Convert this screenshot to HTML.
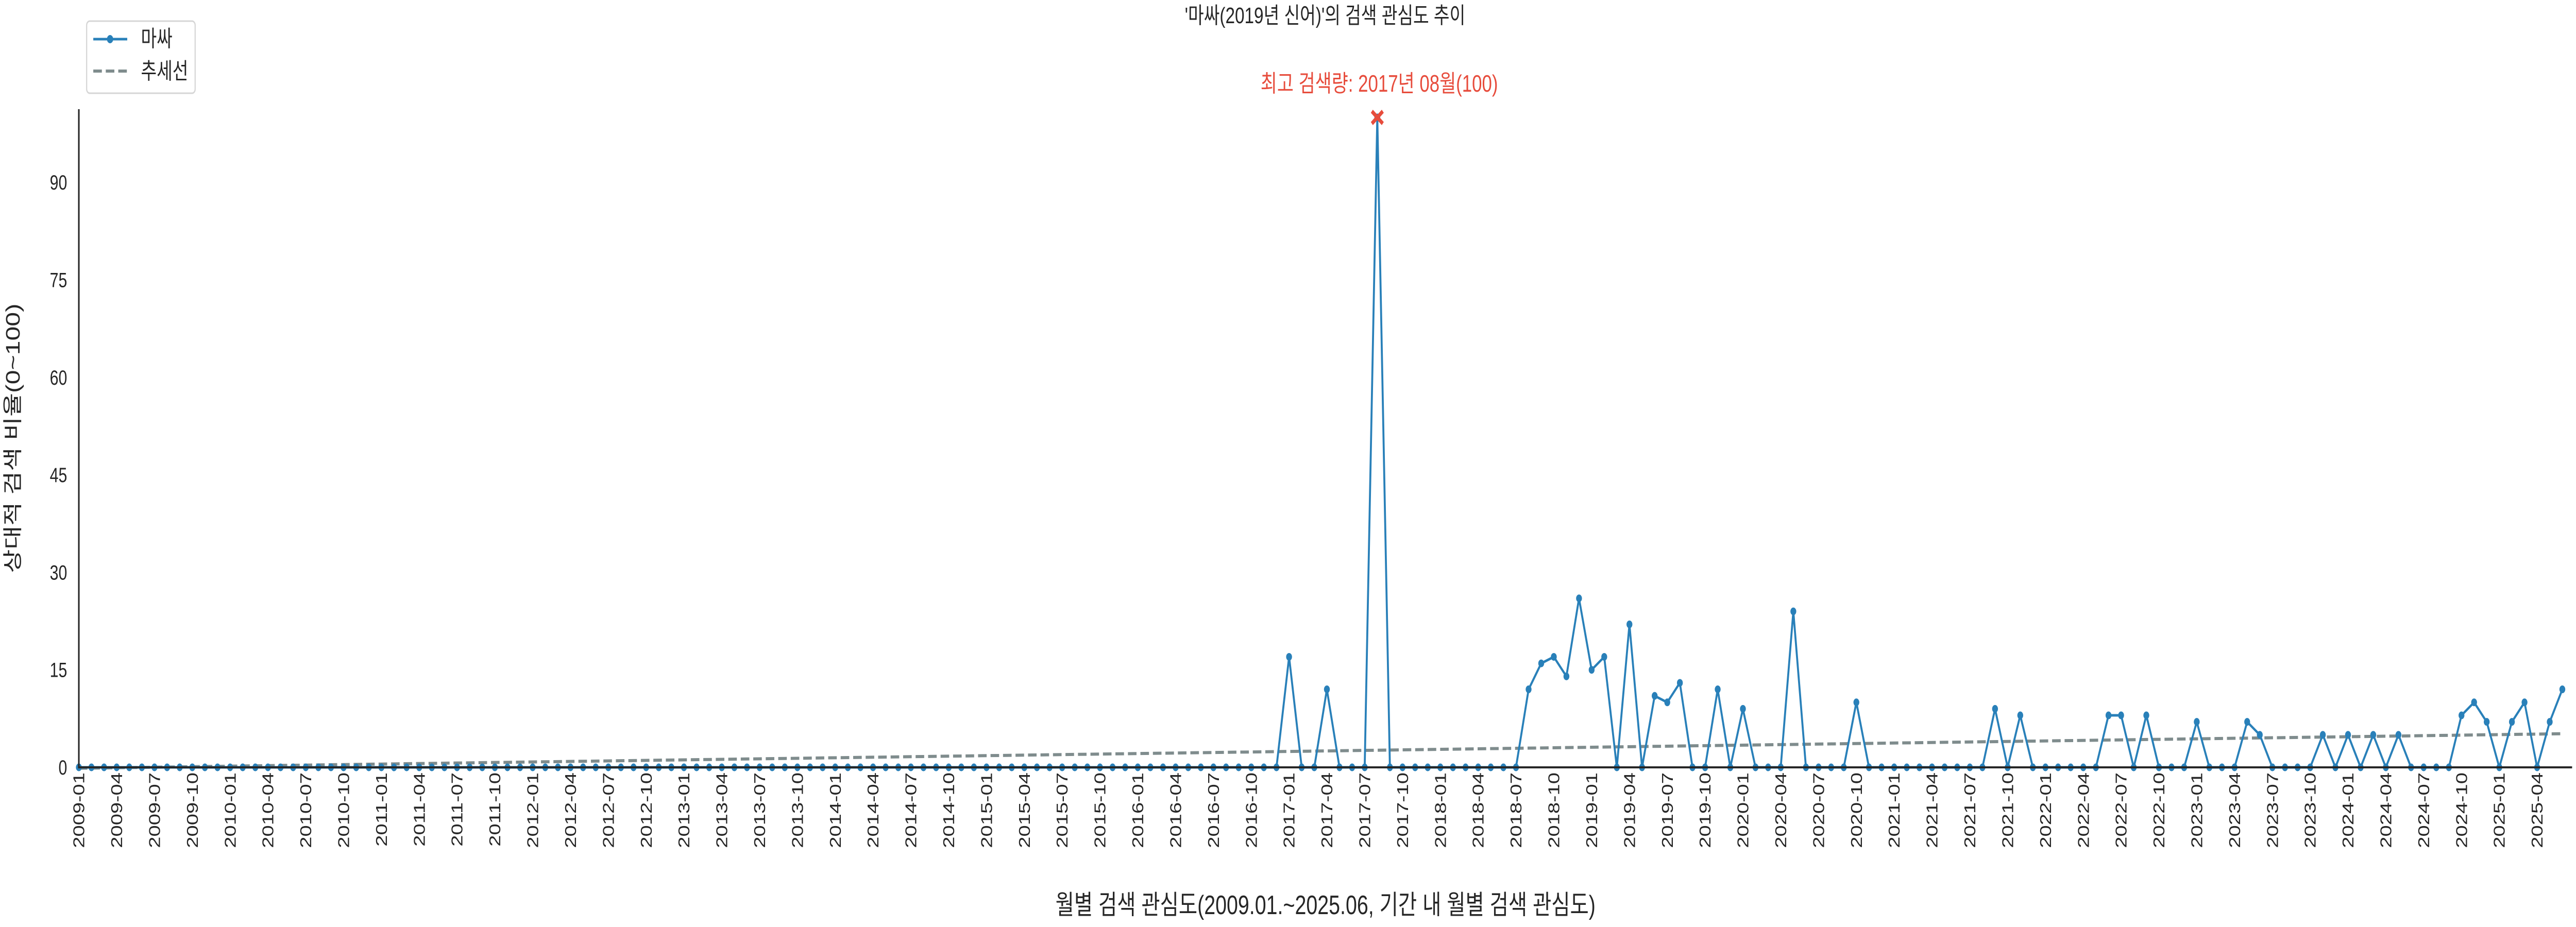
<!DOCTYPE html>
<html><head><meta charset="utf-8">
<style>
html,body{margin:0;padding:0;background:#fff;width:100%;height:100%;overflow:hidden;}
svg{display:block;width:100vw;height:100vh;font-family:"Liberation Sans","Noto Sans CJK KR",sans-serif;}
</style></head>
<body>
<svg id="chart" viewBox="0 0 6600 1800" preserveAspectRatio="none" xmlns="http://www.w3.org/2000/svg">
<text x="3395" y="45" font-size="44" text-anchor="middle" fill="#262626">'마싸(2019년 신어)'의 검색 관심도 추이</text>
<g id="plot"></g>
<g>
<rect x="222" y="41" width="278" height="140" rx="8" fill="#fff" stroke="#d6d6d6" stroke-width="3"/>
<line x1="239" y1="76" x2="326" y2="76" stroke="#2980b9" stroke-width="5"/>
<circle cx="282" cy="76" r="8" fill="#2980b9"/>
<text x="361" y="90" font-size="44" fill="#262626">마싸</text>
<line x1="239" y1="138" x2="326" y2="138" stroke="#7f8c8d" stroke-width="6" stroke-dasharray="22 10"/>
<text x="361" y="153" font-size="44" fill="#262626">추세선</text>
</g>
<text transform="translate(50,851) rotate(-90)" font-size="50" text-anchor="middle" fill="#262626">상대적 검색 비율(0~100)</text>
<text x="3396" y="1775" font-size="52" text-anchor="middle" fill="#262626">월별 검색 관심도(2009.01.~2025.06, 기간 내 월별 검색 관심도)</text>
</svg>
<script>
// data: monthly values 2009-01 .. 2025-06 (198 months); nonzero months listed
const startYear = 2009;
const monthCount = 198;
const nonzeroIdx = [96,99,103,115,116,117,118,119,120,121,123,125,126,127,130,132,136,141,152,154,161,162,164,168,172,173,178,180,182,184,189,190,191,193,194,196,197];
const nonzeroVal = [17,12,100,12,16,17,14,26,15,17,22,11,10,13,12,9,24,10,9,8,8,8,8,7,7,5,5,5,5,5,8,10,7,7,10,7,12];
const yTicks = [0,15,30,45,60,75,90];
const peakLabel = "최고 검색량: 2017년 08월(100)";

const values = new Array(monthCount).fill(0);
nonzeroIdx.forEach((k,i)=>{ values[k]=nonzeroVal[i]; });
const labels = [];
for(let i=0;i<monthCount;i++){const y=startYear+Math.floor(i/12),m=i%12+1;labels.push(y+'-'+(m<10?'0':'')+m);}

const NS="http://www.w3.org/2000/svg";
const plot=document.getElementById('plot');
const X0=202, X1=6565, Y0=1490, PX=12.62;
const xs=i=>X0+(i/(monthCount-1))*(X1-X0);
const ys=v=>Y0-v*PX;
function mk(tag,attrs,parent){const e=document.createElementNS(NS,tag);for(const k in attrs)e.setAttribute(k,attrs[k]);(parent||plot).appendChild(e);return e;}

yTicks.forEach(t=>{
  const tx=mk('text',{x:172,y:ys(t)+14,'font-size':40,'text-anchor':'end',fill:'#262626'});
  
  
  tx.textContent=t;
});
for(let i=0;i<monthCount;i+=3){
  const x=xs(i);
  const tx=mk('text',{transform:`translate(${x+14},1500) rotate(-90)`,'font-size':40,'text-anchor':'end',fill:'#262626'});
  
  
  tx.textContent=labels[i];
}
let n=monthCount,sx=0,sy=0,sxy=0,sxx=0;
values.forEach((v,i)=>{sx+=i;sy+=v;sxy+=i*v;sxx+=i*i;});
const slope=(n*sxy-sx*sy)/(n*sxx-sx*sx), icpt=(sy-slope*sx)/n;
const trend=mk('line',{x1:xs(0),y1:ys(icpt),x2:xs(n-1),y2:ys(icpt+slope*(n-1)),stroke:'#7f8c8d','stroke-width':6,'stroke-dasharray':'22 10'});


const pts=values.map((v,i)=>xs(i).toFixed(1)+','+ys(v).toFixed(1)).join(' ');
const pl=mk('polyline',{points:pts,fill:'none',stroke:'#2980b9','stroke-width':5,'stroke-linejoin':'round'});


values.forEach((v,i)=>{
  const c=mk('circle',{cx:xs(i),cy:ys(v),r:7.5,fill:'#2980b9'});
  
  
});
const ya=mk('line',{x1:X0,y1:212,x2:X0,y2:Y0+2,stroke:'#262626','stroke-width':4});


const xa=mk('line',{x1:X0,y1:Y0,x2:6590,y2:Y0,stroke:'#262626','stroke-width':4});


let pk=0;values.forEach((v,i)=>{if(v>values[pk])pk=i;});
const px=xs(pk),py=ys(values[pk]);
const mx=mk('path',{d:`M${px-14},${py-12}L${px+14},${py+12}M${px-14},${py+12}L${px+14},${py-12}`,stroke:'#e74c3c','stroke-width':8,fill:'none'});


const pt=mk('text',{x:px+5,y:178,'font-size':46,'text-anchor':'middle',fill:'#e74c3c'});


pt.textContent=peakLabel;
</script>
</body></html>
